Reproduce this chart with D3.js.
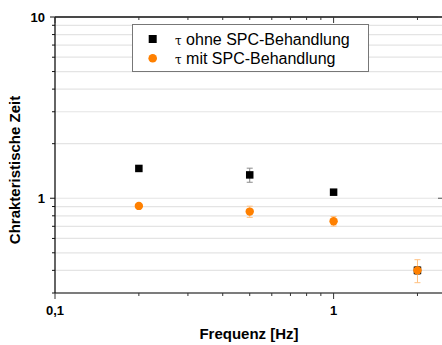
<!DOCTYPE html>
<html>
<head>
<meta charset="utf-8">
<script src="https://cdn.jsdelivr.net/npm/d3@7"></script>
<style>
  html, body { margin: 0; padding: 0; background: #fff; }
  text { font-family: "Liberation Sans", Arial, sans-serif; }
</style>
</head>
<body>
<script>
// data
const freq = [0.2, 0.5, 1, 2];
const tauOhne = [1.46, 1.345, 1.08, 0.40];
const tauOhneErr = [0.03, 0.12, 0.015, 0.02];
const tauMit = [0.907, 0.844, 0.747, 0.40];
const tauMitErr = [0.02, 0.06, 0.045, 0.058];
const xTicks = [0.1, 1];
const xTickLabels = ['0,1', '1'];
const yTicks = [1, 10];
const yTickLabels = ['1', '10'];
const seriesNames = ['ohne SPC-Behandlung', 'mit SPC-Behandlung'];

const W = 442, H = 345;
const m = {left: 55, right: 443, top: 17, bottom: 293};

const svg = d3.select('body').append('svg')
    .attr('width', W)
    .attr('height', H);

const x = d3.scaleLog().domain([0.1, 2.47]).range([m.left, m.right]);
const y = d3.scaleLog().domain([0.3, 10]).range([m.bottom, m.top]);

// minor values for log ticks
const minorX = [];
[0.1, 1].forEach(b => { for (let k = 2; k <= 9; k++) if (b * k <= 2.47) minorX.push(b * k); });
const minorY = [];
[0.1, 1].forEach(b => { for (let k = 2; k <= 9; k++) if (b * k >= 0.3) minorY.push(b * k); });

// horizontal grid
svg.append('g')
    .selectAll('line')
    .data(minorY.concat(yTicks))
    .enter().append('line')
    .attr('x1', m.left).attr('x2', m.right)
    .attr('y1', d => y(d)).attr('y2', d => y(d))
    .style('stroke', '#e4e4e4')
    .style('stroke-width', 1.2);

// axes
const axisG = svg.append('g');
axisG.append('line')
    .attr('x1', m.left).attr('x2', m.right).attr('y1', m.top).attr('y2', m.top)
    .style('stroke', '#111').style('stroke-width', 1.3);
axisG.append('line')
    .attr('x1', m.left).attr('x2', m.right).attr('y1', m.bottom).attr('y2', m.bottom)
    .style('stroke', '#555').style('stroke-width', 1.5);
axisG.append('line')
    .attr('x1', m.left).attr('x2', m.left).attr('y1', m.top).attr('y2', m.bottom)
    .style('stroke', '#111').style('stroke-width', 1.3);
axisG.append('line')
    .attr('x1', m.right).attr('x2', m.right).attr('y1', m.top).attr('y2', m.bottom)
    .style('stroke', '#111').style('stroke-width', 1.3);

// ticks: left outward, right inward (major only), bottom outward, top inward
const tickData = (vals, len) => vals.map(v => ({v, len}));
const yt = tickData(minorY, 3).concat(tickData(yTicks, 5));
const xt = tickData(minorX, 3).concat(tickData(xTicks, 6));

axisG.selectAll('.lt').data(yt).enter().append('line')
    .attr('x1', d => m.left - d.len).attr('x2', m.left)
    .attr('y1', d => y(d.v)).attr('y2', d => y(d.v))
    .style('stroke', '#111');
axisG.selectAll('.rt').data(tickData(yTicks, 5)).enter().append('line')
    .attr('x1', d => m.right - d.len).attr('x2', m.right)
    .attr('y1', d => y(d.v)).attr('y2', d => y(d.v))
    .style('stroke', '#555');
axisG.selectAll('.bt').data(xt).enter().append('line')
    .attr('x1', d => x(d.v)).attr('x2', d => x(d.v))
    .attr('y1', m.bottom).attr('y2', d => m.bottom + d.len)
    .style('stroke', '#333');
axisG.selectAll('.tt').data(xt).enter().append('line')
    .attr('x1', d => x(d.v)).attr('x2', d => x(d.v))
    .attr('y1', m.top).attr('y2', d => m.top + d.len)
    .style('stroke', '#333');

// tick labels
svg.append('g')
    .selectAll('text')
    .data(yTicks)
    .enter().append('text')
    .attr('x', m.left - 10)
    .attr('y', d => y(d))
    .attr('dy', '0.36em')
    .attr('text-anchor', 'end')
    .style('font-size', '13px')
    .style('font-weight', 'bold')
    .text((d, i) => yTickLabels[i]);

svg.append('g')
    .selectAll('text')
    .data(xTicks)
    .enter().append('text')
    .attr('x', d => x(d))
    .attr('y', 315)
    .attr('text-anchor', 'middle')
    .style('font-size', '13px')
    .style('font-weight', 'bold')
    .text((d, i) => xTickLabels[i]);

// axis titles
svg.append('text')
    .attr('x', (m.left + m.right) / 2)
    .attr('y', 339)
    .attr('text-anchor', 'middle')
    .style('font-size', '15px')
    .style('font-weight', 'bold')
    .text('Frequenz [Hz]');

svg.append('text')
    .attr('transform', 'translate(20,170) rotate(-90)')
    .attr('text-anchor', 'middle')
    .style('font-size', '15px')
    .style('font-weight', 'bold')
    .text('Chrakteristische Zeit');

// error bars
function errorBars(vals, errs, color) {
    const g = svg.append('g').style('stroke', color).style('stroke-width', 1);
    const rows = freq.map((f, i) => ({f, v: vals[i], e: errs[i]}));
    g.selectAll('.v').data(rows).enter().append('line')
        .attr('x1', d => x(d.f)).attr('x2', d => x(d.f))
        .attr('y1', d => y(d.v - d.e)).attr('y2', d => y(d.v + d.e));
    g.selectAll('.cu').data(rows).enter().append('line')
        .attr('x1', d => x(d.f) - 3).attr('x2', d => x(d.f) + 3)
        .attr('y1', d => y(d.v + d.e)).attr('y2', d => y(d.v + d.e));
    g.selectAll('.cl').data(rows).enter().append('line')
        .attr('x1', d => x(d.f) - 3).attr('x2', d => x(d.f) + 3)
        .attr('y1', d => y(d.v - d.e)).attr('y2', d => y(d.v - d.e));
}
errorBars(tauOhne, tauOhneErr, '#8a8a8a');
errorBars(tauMit, tauMitErr, '#ffc080');

const sq = 7.5;
svg.append('g')
    .selectAll('rect')
    .data(freq)
    .enter().append('rect')
    .attr('x', (d) => x(d) - sq / 2)
    .attr('y', (d, i) => y(tauOhne[i]) - sq / 2)
    .attr('width', sq).attr('height', sq)
    .style('fill', '#000');

svg.append('g')
    .selectAll('circle')
    .data(freq)
    .enter().append('circle')
    .attr('cx', d => x(d))
    .attr('cy', (d, i) => y(tauMit[i]))
    .attr('r', 4.2)
    .style('fill', '#ff8000');

// legend
const lg = svg.append('g');
lg.append('rect')
    .attr('x', 132.5).attr('y', 24.5)
    .attr('width', 236).attr('height', 47)
    .style('fill', '#fff')
    .style('stroke', '#777')
    .style('stroke-width', 1);
lg.append('rect')
    .attr('x', 152.7 - 4).attr('y', 39 - 4)
    .attr('width', 8).attr('height', 8)
    .style('fill', '#000');
lg.append('circle')
    .attr('cx', 152.7).attr('cy', 58.2).attr('r', 4.3)
    .style('fill', '#ff8000');

[44.5, 63.7].forEach((yy, i) => {
    const t = lg.append('text')
        .attr('x', 175).attr('y', yy)
        .style('font-size', '16px');
    t.append('tspan')
        .style('font-family', '"DejaVu Serif", "Liberation Serif", serif')
        .style('font-size', '12px')
        .text('τ');
    t.append('tspan').text(' ' + seriesNames[i]);
});
</script>
</body>
</html>
